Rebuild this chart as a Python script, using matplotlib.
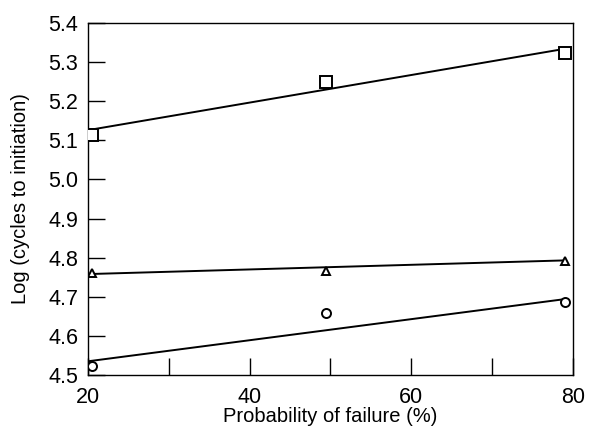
import numpy as np
import matplotlib.pyplot as plt

plt.rcParams['font.family'] = ['Liberation Sans', 'DejaVu Sans']

# measured points (probability of failure %, log cycles to initiation)
prob = [20.5, 49.5, 79.0]
sq_vals = [5.113, 5.248, 5.323]
tri_vals = [4.760, 4.766, 4.791]
circ_vals = [4.523, 4.658, 4.687]

# fitted lines (end points)
fit_x = [20.0, 79.0]
sq_fit = [5.126, 5.334]
tri_fit = [4.758, 4.793]
circ_fit = [4.535, 4.694]

fig = plt.figure(figsize=(5.89, 4.29), dpi=100)
ax = fig.add_axes([0.1494, 0.1259, 0.8234, 0.8205])

for vals, fit, m, ms in [(sq_vals, sq_fit, 's', 8),
                         (tri_vals, tri_fit, '^', 6),
                         (circ_vals, circ_fit, 'o', 6.5)]:
    ax.plot(fit_x, fit, color='black', lw=1.4)
    ax.plot(prob, vals, m, ms=ms, mfc='white', mec='black', mew=1.4,
            linestyle='none', zorder=3)

ax.set_xlim(20, 80)
ax.set_ylim(4.5, 5.4)
ax.set_xticks(np.arange(20, 81, 10))
ax.set_xticklabels(['20', '', '40', '', '60', '', '80'])
ax.set_yticks(np.round(np.arange(4.5, 5.41, 0.1), 1))
ax.set_yticklabels([f'{v:.1f}' for v in np.arange(4.5, 5.41, 0.1)])
ax.tick_params(direction='in', length=12, width=1, labelsize=15.5, pad=7)
ax.tick_params(axis='x', pad=9)

for s in ax.spines.values():
    s.set_linewidth(1.0)

ax.set_xlabel('Probability of failure (%)', fontsize=14.5)
ax.set_ylabel('Log (cycles to initiation)', fontsize=14.5)
ax.xaxis.set_label_coords(0.5, -0.092)
ax.yaxis.set_label_coords(-0.12, 0.5)

fig.savefig('out.png', dpi=100)
